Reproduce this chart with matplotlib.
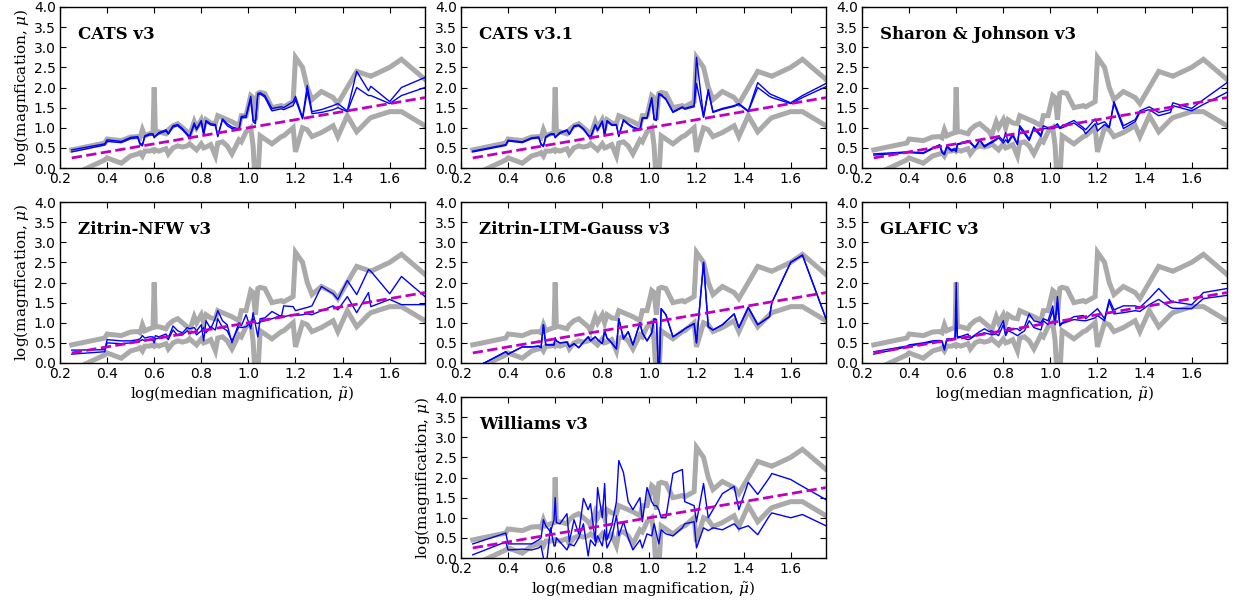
import matplotlib
matplotlib.use('Agg')
import matplotlib.pyplot as plt

# binned log(median magnification)
log_mu_med = [0.25, 0.39, 0.40, 0.46, 0.50, 0.53, 0.54, 0.55, 0.56, 0.58,
              0.595, 0.60, 0.605, 0.62, 0.65, 0.66, 0.68, 0.70, 0.72, 0.74,
              0.75, 0.77, 0.78, 0.80, 0.81, 0.82, 0.84, 0.86, 0.87, 0.89,
              0.91, 0.93, 0.96, 0.97, 0.99, 1.01, 1.02, 1.03, 1.04, 1.05,
              1.07, 1.10, 1.14, 1.15, 1.19, 1.20, 1.23, 1.25, 1.27, 1.31,
              1.36, 1.38, 1.42, 1.46, 1.51, 1.52, 1.60, 1.65, 1.75]

# envelope over all models (grey)
env_hi = [0.45, 0.62, 0.72, 0.68, 0.77, 0.78, 0.75, 0.95, 0.80, 0.85,
          0.88, 2.00, 0.90, 0.90, 0.85, 0.95, 1.05, 1.10, 1.00, 0.90,
          0.80, 1.15, 1.00, 1.20, 1.00, 1.20, 1.12, 1.10, 1.30, 1.25,
          1.20, 1.15, 1.05, 1.30, 1.30, 1.80, 1.75, 1.20, 1.85, 1.88,
          1.85, 1.50, 1.55, 1.52, 1.65, 2.75, 2.50, 2.00, 1.70, 1.90,
          1.75, 1.60, 2.00, 2.40, 2.30, 2.28, 2.50, 2.70, 2.20]
env_lo = [-0.18, 0.20, 0.25, 0.12, 0.30, 0.35, 0.38, 0.30, 0.42, 0.42,
          0.45, 0.42, 0.45, 0.42, 0.48, 0.35, 0.50, 0.55, 0.52, 0.55,
          0.60, 0.50, 0.45, 0.60, 0.50, 0.52, 0.58, 0.30, 0.62, 0.65,
          0.55, 0.35, 0.70, 0.65, 0.90, 1.00, 0.55, -0.50, -0.30, 0.80,
          0.72, 0.60, 0.78, 0.80, 1.00, 0.40, 1.00, 0.95, 0.78, 0.88,
          1.05, 0.78, 1.30, 0.90, 1.20, 1.25, 1.40, 1.40, 1.05]

cats_v3_hi = [0.45, 0.60, 0.70, 0.66, 0.76, 0.78, 0.62, 0.58, 0.80, 0.85,
              0.85, 0.78, 0.80, 0.88, 0.95, 0.86, 1.05, 1.08, 0.98, 0.85,
              0.78, 1.12, 0.98, 1.18, 0.85, 1.18, 1.10, 1.08, 0.80, 1.22,
              1.10, 1.02, 0.97, 1.28, 1.30, 1.78, 1.20, 1.15, 1.85, 1.87,
              1.80, 1.48, 1.52, 1.50, 1.65, 1.78, 1.25, 2.05, 1.40, 1.45,
              1.55, 1.60, 1.42, 2.40, 1.92, 2.03, 1.65, 2.00, 2.25]
cats_v3_lo = [0.40, 0.57, 0.66, 0.63, 0.73, 0.75, 0.58, 0.55, 0.78, 0.82,
              0.82, 0.75, 0.78, 0.85, 0.92, 0.84, 1.02, 1.05, 0.95, 0.82,
              0.76, 1.08, 0.95, 1.15, 0.83, 1.15, 1.07, 1.05, 0.78, 1.20,
              1.05, 0.98, 0.95, 1.25, 1.25, 1.72, 1.15, 1.10, 1.82, 1.84,
              1.76, 1.42, 1.47, 1.45, 1.55, 1.70, 1.22, 1.90, 1.35, 1.38,
              1.45, 1.50, 1.40, 2.00, 1.80, 1.80, 1.60, 1.80, 2.00]

cats_v31_hi = [0.42, 0.58, 0.69, 0.65, 0.75, 0.77, 0.60, 0.55, 0.78, 0.85,
               0.85, 0.77, 0.80, 0.88, 0.95, 0.85, 1.05, 1.07, 0.98, 0.82,
               0.77, 1.08, 0.95, 1.17, 0.82, 1.18, 1.08, 1.08, 0.80, 1.20,
               1.10, 1.02, 0.96, 1.25, 1.25, 1.75, 1.22, 1.20, 1.85, 1.83,
               1.72, 1.40, 1.52, 1.48, 1.55, 2.75, 1.28, 1.95, 1.40, 1.48,
               1.55, 1.60, 1.42, 2.12, 1.85, 1.82, 1.62, 1.80, 2.10]
cats_v31_lo = [0.40, 0.56, 0.67, 0.63, 0.73, 0.75, 0.58, 0.53, 0.76, 0.83,
               0.83, 0.75, 0.78, 0.86, 0.93, 0.83, 1.03, 1.05, 0.96, 0.80,
               0.75, 1.06, 0.93, 1.15, 0.80, 1.16, 1.06, 1.06, 0.78, 1.18,
               1.08, 1.00, 0.94, 1.23, 1.23, 1.72, 1.20, 1.18, 1.82, 1.80,
               1.70, 1.38, 1.50, 1.46, 1.52, 2.10, 1.26, 1.90, 1.38, 1.46,
               1.53, 1.58, 1.40, 2.00, 1.78, 1.75, 1.60, 1.75, 2.02]

sharon_hi = [0.35, 0.40, 0.40, 0.38, 0.50, 0.58, 0.40, 0.35, 0.55, 0.45,
             0.48, 0.42, 0.60, 0.62, 0.68, 0.65, 0.52, 0.70, 0.55, 0.62,
             0.65, 0.72, 0.80, 0.68, 0.88, 0.65, 0.85, 0.60, 1.05, 0.90,
             0.72, 1.02, 0.82, 1.05, 1.00, 1.02, 1.05, 1.10, 1.00, 1.05,
             1.10, 1.18, 1.00, 0.95, 1.22, 1.08, 1.15, 1.02, 1.65, 1.05,
             1.20, 1.42, 1.52, 1.38, 1.45, 1.62, 1.48, 1.70, 2.12]
sharon_lo = [0.32, 0.38, 0.38, 0.36, 0.48, 0.55, 0.38, 0.33, 0.52, 0.42,
             0.45, 0.40, 0.58, 0.60, 0.65, 0.62, 0.50, 0.68, 0.52, 0.60,
             0.62, 0.70, 0.75, 0.62, 0.70, 0.62, 0.80, 0.58, 1.00, 0.85,
             0.68, 0.98, 0.78, 0.98, 0.98, 0.98, 1.00, 1.05, 0.98, 1.00,
             1.05, 1.12, 0.95, 0.85, 1.10, 0.92, 1.08, 1.00, 1.60, 0.98,
             1.15, 1.38, 1.45, 1.30, 1.38, 1.55, 1.42, 1.58, 1.88]

zitrin_nfw_hi = [0.32, 0.33, 0.58, 0.55, 0.55, 0.58, 0.60, 0.68, 0.62, 0.65,
                 0.65, 0.58, 0.68, 0.65, 0.72, 0.62, 0.92, 0.80, 0.75, 0.88,
                 0.85, 0.88, 0.80, 0.95, 0.55, 1.05, 0.85, 1.12, 1.30, 1.05,
                 0.95, 0.50, 1.00, 0.92, 1.20, 0.85, 1.25, 0.95, 0.65, 1.10,
                 1.12, 1.28, 1.15, 1.42, 1.40, 1.30, 1.35, 1.38, 1.42, 1.90,
                 1.72, 1.58, 2.05, 1.70, 2.32, 2.28, 1.72, 2.15, 1.65]
zitrin_nfw_lo = [0.22, 0.28, 0.50, 0.48, 0.50, 0.52, 0.55, 0.58, 0.55, 0.58,
                 0.56, 0.50, 0.60, 0.62, 0.65, 0.58, 0.82, 0.68, 0.70, 0.80,
                 0.75, 0.78, 0.70, 0.80, 0.88, 0.75, 0.90, 0.82, 1.10, 0.88,
                 0.80, 0.55, 0.90, 0.88, 0.90, 1.00, 1.10, 1.00, 0.98, 1.02,
                 1.05, 1.10, 1.18, 1.15, 1.20, 1.18, 1.20, 1.22, 1.20, 1.30,
                 1.42, 1.32, 1.65, 1.25, 1.75, 1.40, 1.58, 1.45, 1.45]

zitrin_ltm = [-0.15, 0.28, 0.22, 0.40, 0.40, 0.42, 0.38, 0.95, 0.45, 0.45,
              0.45, 0.62, 0.55, 0.50, 0.52, 0.40, 0.48, 0.38, 0.52, 0.65,
              0.55, 0.65, 0.58, 0.48, 0.80, 0.62, 0.50, 0.35, 1.10, 0.60,
              0.78, 0.45, 1.00, 0.75, 0.55, 0.75, 1.10, 1.08, -0.50, 1.35,
              1.20, 0.65, 0.80, 0.85, 0.98, 0.50, 2.50, 0.90, 0.82, 0.95,
              1.22, 0.88, 1.38, 0.95, 1.15, 1.50, 2.50, 2.68, 1.10]

glafic_hi = [0.28, 0.42, 0.45, 0.50, 0.55, 0.56, 0.55, 0.35, 0.60, 0.60,
             0.62, 2.00, 0.65, 0.66, 0.72, 0.62, 0.70, 0.78, 0.85, 0.78,
             0.80, 0.75, 0.82, 1.05, 0.70, 0.88, 0.85, 0.85, 0.80, 0.90,
             1.22, 1.05, 1.00, 1.10, 1.05, 1.42, 1.00, 1.65, 0.95, 1.00,
             1.05, 1.15, 1.18, 1.10, 1.30, 1.35, 1.10, 1.58, 1.32, 1.42,
             1.42, 1.38, 1.60, 1.85, 1.55, 1.52, 1.45, 1.75, 1.85]
glafic_lo = [0.22, 0.40, 0.42, 0.48, 0.52, 0.55, 0.52, 0.32, 0.58, 0.58,
             0.60, 1.15, 0.62, 0.64, 0.58, 0.60, 0.68, 0.72, 0.75, 0.72,
             0.70, 0.72, 0.68, 0.95, 0.68, 0.80, 0.75, 0.68, 0.72, 0.80,
             1.05, 0.88, 0.82, 1.05, 0.95, 1.30, 0.95, 1.50, 0.92, 0.98,
             1.02, 1.08, 1.05, 1.05, 1.12, 1.18, 1.05, 1.52, 1.22, 1.25,
             1.30, 1.28, 1.45, 1.58, 1.38, 1.36, 1.35, 1.60, 1.68]

williams_hi = [0.35, 0.62, 0.35, 0.35, 0.35, 0.45, 0.50, 0.95, 0.80, 0.65,
               0.95, 1.50, 0.88, 0.85, 1.10, 0.40, 0.95, 0.60, 1.48, 1.20,
               1.35, 0.40, 1.75, 1.00, 1.85, 0.45, 0.80, 1.40, 2.42, 2.12,
               1.40, 1.20, 1.50, 0.90, 1.75, 1.40, 1.30, 1.30, 1.20, 1.00,
               1.00, 2.10, 2.20, 1.40, 1.30, 0.90, 1.85, 1.00, 1.20, 1.60,
               1.78, 1.20, 1.88, 1.58, 2.00, 2.10, 1.95, 1.78, 1.45]
williams_lo = [0.08, 0.40, 0.20, 0.22, 0.20, 0.25, 0.30, 0.00, -0.30, 0.75,
               0.30, 0.30, 0.50, 0.40, 0.20, 0.35, 0.30, 0.50, 0.85, 0.05,
               0.45, 0.30, 0.55, 0.30, 0.70, 0.25, 0.50, 1.05, 0.55, 0.90,
               0.50, 0.20, 0.45, 0.25, 0.60, 0.55, 0.85, 0.60, 0.35, 0.70,
               0.60, 0.55, 0.75, 0.85, 0.90, 0.25, 0.75, 0.68, 0.75, 0.70,
               0.85, 0.72, 0.80, 0.58, 1.05, 1.12, 1.00, 1.08, 0.80]

model_names = ['CATS v3', 'CATS v3.1', 'Sharon & Johnson v3',
               'Zitrin-NFW v3', 'Zitrin-LTM-Gauss v3', 'GLAFIC v3',
               'Williams v3']
model_hi = [cats_v3_hi, cats_v31_hi, sharon_hi, zitrin_nfw_hi,
            zitrin_ltm, glafic_hi, williams_hi]
model_lo = [cats_v3_lo, cats_v31_lo, sharon_lo, zitrin_nfw_lo,
            zitrin_ltm, glafic_lo, williams_lo]

ylab_a = 'log(magnfication, $\\mu$)'
ylab_b = 'log(magnification, $\\mu$)'
xlab_a = 'log(median magnification, $\\tilde{\\mu}$)'
xlab_b = 'log(median magnfication, $\\tilde{\\mu}$)'

# (column, row, xlabel, ylabel) for each panel
layout = [(0, 0, None, ylab_a), (1, 0, None, None), (2, 0, None, None),
          (0, 1, xlab_a, ylab_a), (1, 1, None, None), (2, 1, xlab_b, None),
          (1, 2, xlab_a, ylab_b)]

plt.rcParams['mathtext.fontset'] = 'dejavuserif'
W, H = 1237, 604
fig = plt.figure(figsize=(W / 100, H / 100), dpi=100)

col_left = [60, 461, 862]
row_top = [7, 202, 397]
pw, ph = 365, 161

for i, name in enumerate(model_names):
    c, r, xl, yl = layout[i]
    ax = fig.add_axes([col_left[c] / W, 1 - (row_top[r] + ph) / H, pw / W, ph / H])
    ax.plot(log_mu_med, env_hi, color='#aaaaaa', lw=3.6, solid_joinstyle='miter', zorder=1)
    ax.plot(log_mu_med, env_lo, color='#aaaaaa', lw=3.6, solid_joinstyle='miter', zorder=1)
    ax.plot(log_mu_med, model_hi[i], color='b', lw=1.0, zorder=2)
    ax.plot(log_mu_med, model_lo[i], color='b', lw=1.0, zorder=2)
    ax.plot(log_mu_med, log_mu_med, 'm--', lw=2, zorder=3)

    ax.set_xlim(0.2, 1.75)
    ax.set_ylim(0.0, 4.0)
    ax.set_xticks([0.2, 0.4, 0.6, 0.8, 1.0, 1.2, 1.4, 1.6])
    ax.set_yticks([0.0, 0.5, 1.0, 1.5, 2.0, 2.5, 3.0, 3.5, 4.0])
    ax.tick_params(direction='in', top=True, right=True, length=4,
                   labelsize=10, pad=3)
    for s in ax.spines.values():
        s.set_linewidth(1.0)

    ax.text(0.05, 0.83, name, transform=ax.transAxes, family='DejaVu Serif',
            weight='bold', fontsize=12, va='center', ha='left')
    if xl:
        ax.set_xlabel(xl, family='DejaVu Serif', fontsize=11, labelpad=2)
    if yl:
        ax.set_ylabel(yl, family='DejaVu Serif', fontsize=11, labelpad=2)

fig.savefig('out.png', dpi=100)
